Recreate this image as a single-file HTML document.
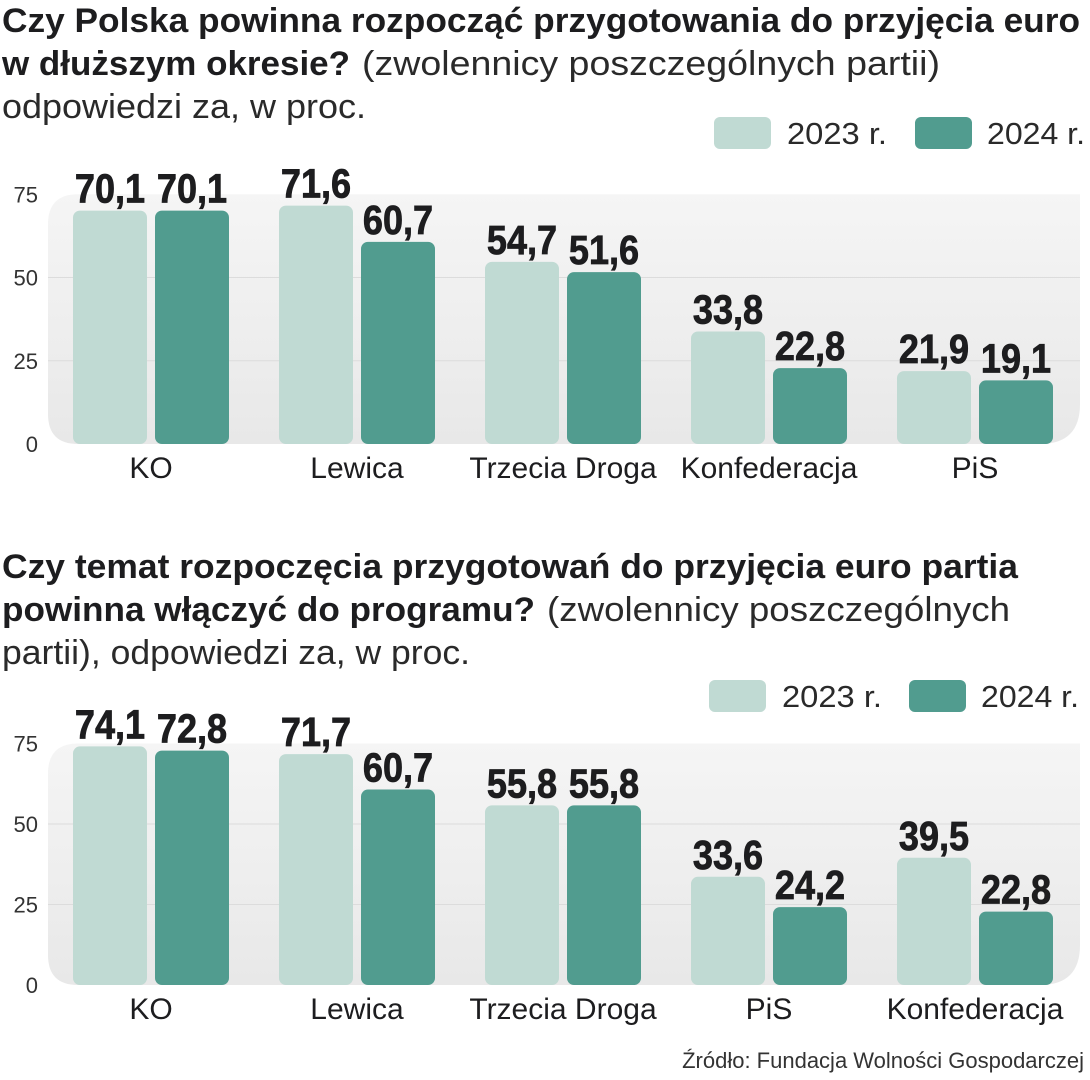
<!DOCTYPE html>
<html><head><meta charset="utf-8"><style>
html,body{margin:0;padding:0;background:#fff;}
svg{display:block;font-family:"Liberation Sans",sans-serif;}
.t{font-weight:bold;font-size:34px;fill:#1d1d1f}
.s{font-weight:normal;font-size:34px;fill:#2a2a2a}
.tick{font-size:22px;fill:#333}
.cat{font-size:30px;fill:#1d1d1f}
.val{font-weight:bold;font-size:41px;fill:#1d1d1f;stroke:#1d1d1f;stroke-width:0.8px}
.leg{font-size:31px;fill:#2a2a2a}
</style></head><body>
<svg id="svg" width="1090" height="1080" viewBox="0 0 1090 1080">
<defs><linearGradient id="bg" x1="0" y1="0" x2="0" y2="1"><stop offset="0" stop-color="#f5f5f5"/><stop offset="1" stop-color="#e8e8e8"/></linearGradient></defs>
<text x="2" y="32" class="t" textLength="1078" lengthAdjust="spacingAndGlyphs">Czy Polska powinna rozpocząć przygotowania do przyjęcia euro</text>
<text y="75"><tspan x="2" class="t" textLength="348" lengthAdjust="spacingAndGlyphs">w dłuższym okresie?</tspan><tspan x="362" class="s" textLength="578" lengthAdjust="spacingAndGlyphs">(zwolennicy poszczególnych partii)</tspan></text>
<text x="2" y="118" class="s" textLength="364" lengthAdjust="spacingAndGlyphs">odpowiedzi za, w proc.</text>
<rect x="714" y="117" width="57" height="32" rx="6" fill="#c0dad3"/>
<text x="787" y="144" class="leg" textLength="100" lengthAdjust="spacingAndGlyphs">2023 r.</text>
<rect x="915" y="117" width="57" height="32" rx="6" fill="#519c8f"/>
<text x="987" y="144" class="leg" textLength="98" lengthAdjust="spacingAndGlyphs">2024 r.</text>

<text x="2" y="578" class="t" textLength="1016" lengthAdjust="spacingAndGlyphs">Czy temat rozpoczęcia przygotowań do przyjęcia euro partia</text>
<text y="621"><tspan x="2" class="t" textLength="533" lengthAdjust="spacingAndGlyphs">powinna włączyć do programu?</tspan><tspan x="547" class="s" textLength="463" lengthAdjust="spacingAndGlyphs">(zwolennicy poszczególnych</tspan></text>
<text x="2" y="664" class="s" textLength="468" lengthAdjust="spacingAndGlyphs">partii), odpowiedzi za, w proc.</text>
<rect x="709" y="680" width="57" height="32" rx="6" fill="#c0dad3"/>
<text x="782" y="707" class="leg" textLength="100" lengthAdjust="spacingAndGlyphs">2023 r.</text>
<rect x="909" y="680" width="57" height="32" rx="6" fill="#519c8f"/>
<text x="981" y="707" class="leg" textLength="98" lengthAdjust="spacingAndGlyphs">2024 r.</text>

<text x="1084" y="1068" text-anchor="end" style="font-size:22px;fill:#333">Źródło: Fundacja Wolności Gospodarczej</text>
<g id="c1"></g>
<g id="c2"></g>
</svg>
<script>
const cats1 = ["KO","Lewica","Trzecia Droga","Konfederacja","PiS"];
const v2023a = [70.1,71.6,54.7,33.8,21.9];
const v2024a = [70.1,60.7,51.6,22.8,19.1];
const cats2 = ["KO","Lewica","Trzecia Droga","PiS","Konfederacja"];
const v2023b = [74.1,71.7,55.8,33.6,39.5];
const v2024b = [72.8,60.7,55.8,24.2,22.8];
const ticks = [0,25,50,75];
const NS="http://www.w3.org/2000/svg";
function mk(tag,attrs,parent){const e=document.createElementNS(NS,tag);for(const k in attrs)e.setAttribute(k,attrs[k]);parent.appendChild(e);return e;}
function fmt(v){return v.toFixed(1).replace('.',',');}
function draw(g,cats,a,b,y0,unit,pre){
  const y=v=>y0-v*unit;
  const bgEl=mk('path',{d:`M48 ${y(75)+30} Q48 ${y(75)} 78 ${y(75)} L1080 ${y(75)} L1080 ${y0-40} Q1080 ${y0} 1040 ${y0} L78 ${y0} Q48 ${y0} 48 ${y0-30} Z`,fill:'url(#bg)'},g);
  
  
  ticks.forEach(t=>{
    if(t>0&&t<75){const l=mk('line',{x1:48,x2:1080,y1:y(t),y2:y(t),stroke:'#dcdcdc','stroke-width':1},g);
    
    }
    const tx=mk('text',{x:38,y:y(t)+8,'text-anchor':'end',class:'tick'},g);tx.textContent=t;
    
    
  });
  const bx=i=>73+i*206, bw=74, gap=8;
  cats.forEach((c,i)=>{
    [[a[i],'#c0dad3',0,'2023'],[b[i],'#519c8f',1,'2024']].forEach(([v,col,k,yr])=>{
      const x=bx(i)+k*(bw+gap);
      const r=mk('rect',{x:x,y:y(v),width:bw,height:v*unit,rx:7,fill:col},g);
      
      
      const cx=x+bw/2;
      const t=mk('text',{x:cx,y:y(v)-8,'text-anchor':'middle',class:'val',transform:`translate(${cx} 0) scale(0.88 1) translate(${-cx} 0)`},g);
      t.textContent=fmt(v);
      
      
    });
    const ct=mk('text',{x:bx(i)+bw+gap/2,y:y0+34,'text-anchor':'middle',class:'cat'},g);ct.textContent=c;
    
    
  });
}
draw(document.getElementById('c1'),cats1,v2023a,v2024a,444,3.33,'chart1');
draw(document.getElementById('c2'),cats2,v2023b,v2024b,985,3.22,'chart2');
</script>
</body></html>
